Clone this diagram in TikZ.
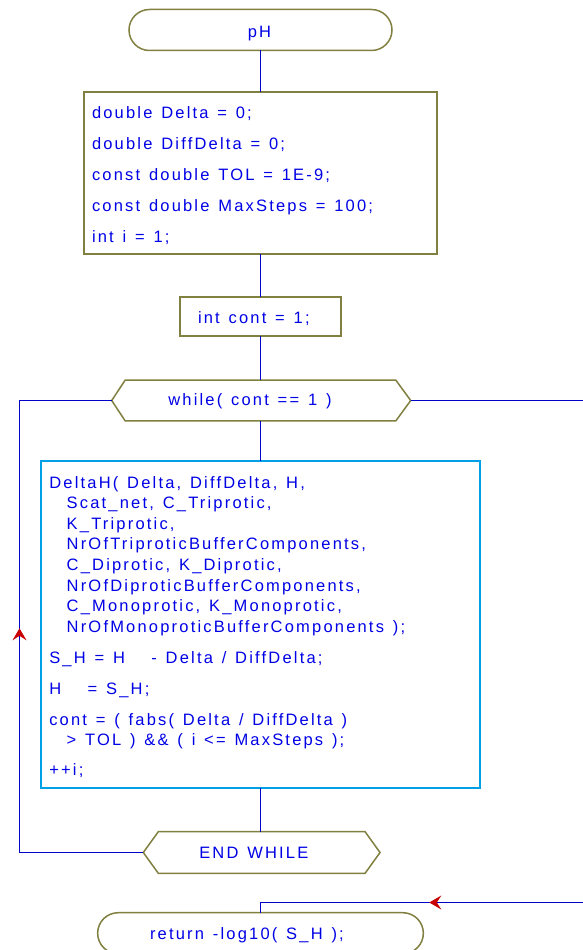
\documentclass[tikz,border=0pt]{standalone}
\usepackage{fontspec}
\setmainfont{Liberation Sans}[LetterSpace=13.3, WordSpace=1.3]
\usetikzlibrary{shapes.misc,arrows.meta,decorations.markings}
\definecolor{lineblue}{RGB}{0,0,200}
\definecolor{txtblue}{RGB}{0,0,230}
\definecolor{olivebd}{RGB}{128,128,64}
\definecolor{cyanbd}{RGB}{0,160,230}
\definecolor{arrred}{RGB}{200,0,0}
\tikzset{redtip/.tip={Stealth[length=12pt,width=14pt,inset=4.5pt]}}
\begin{document}
\begin{tikzpicture}[x=1pt,y=-1pt,
  every node/.style={font=\fontsize{16.5pt}{20.6pt}\selectfont, text=txtblue, inner sep=0pt, outer sep=0pt},
  olbox/.style={draw=olivebd, line width=1.5pt, rectangle},
  term/.style={draw=olivebd, line width=1.5pt, rounded rectangle, minimum height=41pt},
  hexcore/.style={rectangle, draw=none},
  hexline/.style={draw=olivebd, line width=1.5pt, line join=miter},
  codeline/.style={anchor=base west},
  conn/.style={draw=lineblue, line width=1.1pt}]
\fill[white] (0,0) rectangle (582,950);
\useasboundingbox (0,0) rectangle (582,950);

% start terminal
\node[term, minimum width=263pt] (ph) at (260.5,30) {};
\node[anchor=base] (pht) at (259.5,37.7) {pH};

% declarations
\node[olbox, minimum width=353pt, minimum height=162pt] (decl) at (260.5,173) {};
\node[codeline] (d1) at (92,118.3) {double Delta = 0;};
\node[codeline] (d2) at (92,149.3) {double DiffDelta = 0;};
\node[codeline] (d3) at (92,180.3) {const double TOL = 1E-9;};
\node[codeline] (d4) at (92,211.3) {const double MaxSteps = 100;};
\node[codeline] (d5) at (92,242.0) {int i = 1;};

% int cont
\node[olbox, minimum width=161pt, minimum height=39pt] (ic) at (260.5,316.7) {};
\node[codeline] (ict) at (198,323.3) {int cont = 1;};

% while (hexagon)
\node[hexcore, minimum width=270.7pt, minimum height=40.7pt] (wh) at (260.5,400.5) {};
\coordinate (whW) at (111.7,400.5);
\coordinate (whE) at (410.7,400.5);
\draw[hexline] (whW) -- (wh.north west) -- (wh.north east) -- (whE)
  -- (wh.south east) -- (wh.south west) -- cycle;
\node[codeline] (wht) at (168.3,405) {while( cont == 1 )};

% body
\node[draw=cyanbd, line width=1.5pt, minimum width=439pt, minimum height=327pt] (body) at (260.5,624.5) {};
\node[codeline] (b1) at (49.3,488.0) {DeltaH( Delta, DiffDelta, H,};
\node[codeline] (b2) at (66.7,508.6) {Scat\_net, C\_Triprotic,};
\node[codeline] (b3) at (66.7,529.2) {K\_Triprotic,};
\node[codeline] (b4) at (66.7,549.8) {NrOfTriproticBufferComponents,};
\node[codeline] (b5) at (66.7,570.4) {C\_Diprotic, K\_Diprotic,};
\node[codeline] (b6) at (66.7,591.0) {NrOfDiproticBufferComponents,};
\node[codeline] (b7) at (66.7,611.6) {C\_Monoprotic, K\_Monoprotic,};
\node[codeline] (b8) at (66.7,632.2) {NrOfMonoproticBufferComponents );};
\node[codeline] (b9) at (49.3,663.5) {S\_H = H\ \ \ - Delta / DiffDelta;};
\node[codeline] (b10) at (49.3,694.3) {H\ \ \ = S\_H;};
\node[codeline] (b11) at (49.3,725.5) {cont = ( fabs( Delta / DiffDelta )};
\node[codeline] (b12) at (66.7,745.5) {> TOL ) \&\& ( i <= MaxSteps );};
\node[codeline] (b13) at (49.3,775.0) {++i;};

% end while (hexagon)
\node[hexcore, minimum width=206.7pt, minimum height=41.7pt] (ew) at (261.7,852.5) {};
\coordinate (ewW) at (143.3,852.5);
\coordinate (ewE) at (380,852.5);
\draw[hexline] (ewW) -- (ew.north west) -- (ew.north east) -- (ewE)
  -- (ew.south east) -- (ew.south west) -- cycle;
\node[codeline] (ewt) at (199.3,858) {END WHILE};

% return terminal
\node[term, minimum width=325.7pt] (ret) at (260.5,933.2) {};
\node[codeline] (rett) at (150,939.3) {return -log10( S\_H );};

% connectors
\draw[conn] (ph.south) -- (ph.south |- decl.north);
\draw[conn] (decl.south) -- (decl.south |- ic.north);
\draw[conn] (ic.south) -- (ic.south |- wh.north);
\draw[conn] (wh.south) -- (wh.south |- body.north);
\draw[conn] (body.south) -- (body.south |- ew.north);

\coordinate (lb) at (19.5,852.5);
\coordinate (lt) at (19.5,400.5);
\draw[conn, postaction={decorate},
  decoration={markings, mark=at position 348pt with {\arrow[color=arrred]{redtip}}}]
  (ewW) -- (lb) -- (lt) -- (whW);

\coordinate (rt) at (592,400.5);
\coordinate (rb) at (592,902.5);
\draw[conn, postaction={decorate},
  decoration={markings, mark=at position 846pt with {\arrow[color=arrred]{redtip}}}]
  (whE) -- (rt) -- (rb) -- (rb -| ret.north) -- (ret.north);
\end{tikzpicture}
\end{document}
